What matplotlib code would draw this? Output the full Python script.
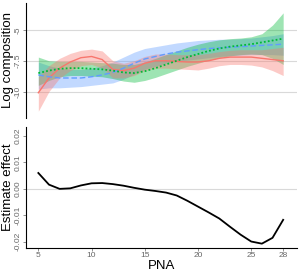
import numpy as np
import matplotlib as mpl
mpl.use("Agg")
import matplotlib.pyplot as plt

mpl.rcParams["font.family"] = ["Liberation Sans", "DejaVu Sans"]

# ---- data ----
pna = [5, 6, 7, 8, 9, 10, 11, 12, 13, 14, 15, 16, 17, 18, 19, 20, 21, 22, 23, 24, 25, 26, 27, 28]

red_fit = [-10.1, -8.9, -8.1, -7.6, -7.25, -7.15, -7.4, -8.2, -8.3, -8.1, -7.7, -7.5,
           -7.5, -7.55, -7.6, -7.6, -7.5, -7.3, -7.2, -7.2, -7.2, -7.3, -7.4, -7.5]
red_hi = [-8.8, -7.9, -7.3, -6.9, -6.65, -6.55, -6.7, -7.5, -7.7, -7.5, -7.15, -6.95,
          -6.95, -7.0, -7.0, -7.0, -6.9, -6.75, -6.65, -6.6, -6.6, -6.6, -6.5, -6.4]
red_lo = [-11.6, -10.0, -8.9, -8.3, -7.9, -7.8, -8.1, -8.9, -8.9, -8.7, -8.3, -8.1,
          -8.1, -8.15, -8.2, -8.25, -8.1, -7.9, -7.8, -7.8, -7.85, -8.0, -8.3, -8.7]

blue_fit = [-8.65, -8.8, -8.9, -8.9, -8.9, -8.8, -8.65, -8.45, -8.1, -7.7, -7.35, -7.15,
            -6.95, -6.8, -6.7, -6.6, -6.5, -6.45, -6.4, -6.35, -6.3, -6.25, -6.2, -6.15]
blue_hi = [-7.6, -7.9, -8.1, -8.2, -8.2, -8.1, -7.9, -7.6, -7.2, -6.8, -6.5, -6.35,
           -6.2, -6.05, -5.95, -5.85, -5.8, -5.75, -5.75, -5.7, -5.65, -5.55, -5.45, -5.3]
blue_lo = [-9.8, -9.7, -9.7, -9.65, -9.6, -9.5, -9.4, -9.3, -9.0, -8.6, -8.2, -7.95,
           -7.7, -7.55, -7.45, -7.35, -7.25, -7.15, -7.1, -7.05, -7.0, -7.0, -7.0, -7.05]

green_fit = [-8.5, -8.3, -8.15, -8.1, -8.1, -8.15, -8.2, -8.3, -8.45, -8.5, -8.35, -8.1,
             -7.8, -7.5, -7.2, -6.95, -6.7, -6.5, -6.35, -6.25, -6.15, -6.0, -5.85, -5.7]
green_hi = [-7.2, -7.5, -7.55, -7.55, -7.55, -7.6, -7.65, -7.7, -7.8, -7.8, -7.6, -7.3,
            -7.0, -6.7, -6.4, -6.15, -5.95, -5.8, -5.7, -5.65, -5.55, -5.3, -4.6, -3.6]
green_lo = [-9.5, -9.1, -8.8, -8.7, -8.7, -8.75, -8.8, -8.95, -9.15, -9.25, -9.1, -8.85,
            -8.55, -8.25, -7.95, -7.7, -7.45, -7.25, -7.1, -7.0, -6.95, -7.0, -7.3, -7.8]

effect = [0.006, 0.0016, 0.0, 0.0002, 0.0013, 0.0021, 0.0022, 0.0018, 0.0012, 0.0004,
          -0.0003, -0.0008, -0.0014, -0.0025, -0.0045, -0.0067, -0.0089, -0.0112,
          -0.0143, -0.0173, -0.0199, -0.0207, -0.0185, -0.0117]

top_ticks = [-5, -7.5, -10]
top_labels = ["-5", "-7.5", "-10"]
bot_ticks = [0.02, 0.01, 0.0, -0.01, -0.02]
bot_labels = ["0.02", "0.01", "0.00", "-0.01", "-0.02"]
x_ticks = [5, 10, 15, 20, 25, 28]

RED, GREEN, BLUE = "#F8766D", "#00BA38", "#619CFF"
TICKC = "#666666"

fig = plt.figure(figsize=(3.0, 2.73), dpi=100)
ax1 = fig.add_axes([0.087, 0.568, 0.903, 0.421])
ax2 = fig.add_axes([0.087, 0.092, 0.903, 0.443])

# ---- top panel: smoothed log composition with CI ribbons ----
for lo, hi, c in [(blue_lo, blue_hi, BLUE), (green_lo, green_hi, GREEN), (red_lo, red_hi, RED)]:
    ax1.fill_between(pna, lo, hi, color=c, alpha=0.38, lw=0)
ax1.plot(pna, red_fit, color=RED, lw=1.0, ls="-")
ax1.plot(pna, blue_fit, color=BLUE, lw=1.0, ls=(0, (4, 2)))
ax1.plot(pna, green_fit, color=GREEN, lw=1.3, ls=(0, (1, 1.2)))
for t in top_ticks:
    ax1.axhline(t, color="#d9d9d9", lw=0.8, zorder=0)
ax1.set_xlim(3.85, 29.3)
ax1.set_ylim(-12.15, -2.8)
ax1.set_yticks(top_ticks)
ax1.set_yticklabels(top_labels, rotation=90, va="center")
ax1.set_xticks([])
ax1.set_ylabel("Log composition", fontsize=9.5, labelpad=1)

# ---- bottom panel: estimated effect ----
ax2.axhline(0, color="#d9d9d9", lw=0.8, zorder=0)
ax2.plot(pna, effect, color="black", lw=1.3)
ax2.set_xlim(3.85, 29.3)
ax2.set_ylim(-0.0223, 0.0234)
ax2.set_yticks(bot_ticks)
ax2.set_yticklabels(bot_labels, rotation=90, va="center")
ax2.set_xticks(x_ticks)
ax2.set_xlabel("PNA", fontsize=9.5, labelpad=1)
ax2.set_ylabel("Estimate effect", fontsize=9.5, labelpad=1)

for a in (ax1, ax2):
    for s in ("top", "right"):
        a.spines[s].set_visible(False)
    a.spines["left"].set_linewidth(0.8)
    a.spines["bottom"].set_linewidth(0.8)
    a.tick_params(labelsize=6, colors=TICKC, length=2, width=0.5, pad=1)
ax1.spines["bottom"].set_visible(False)

fig.savefig("out.png", dpi=100)
